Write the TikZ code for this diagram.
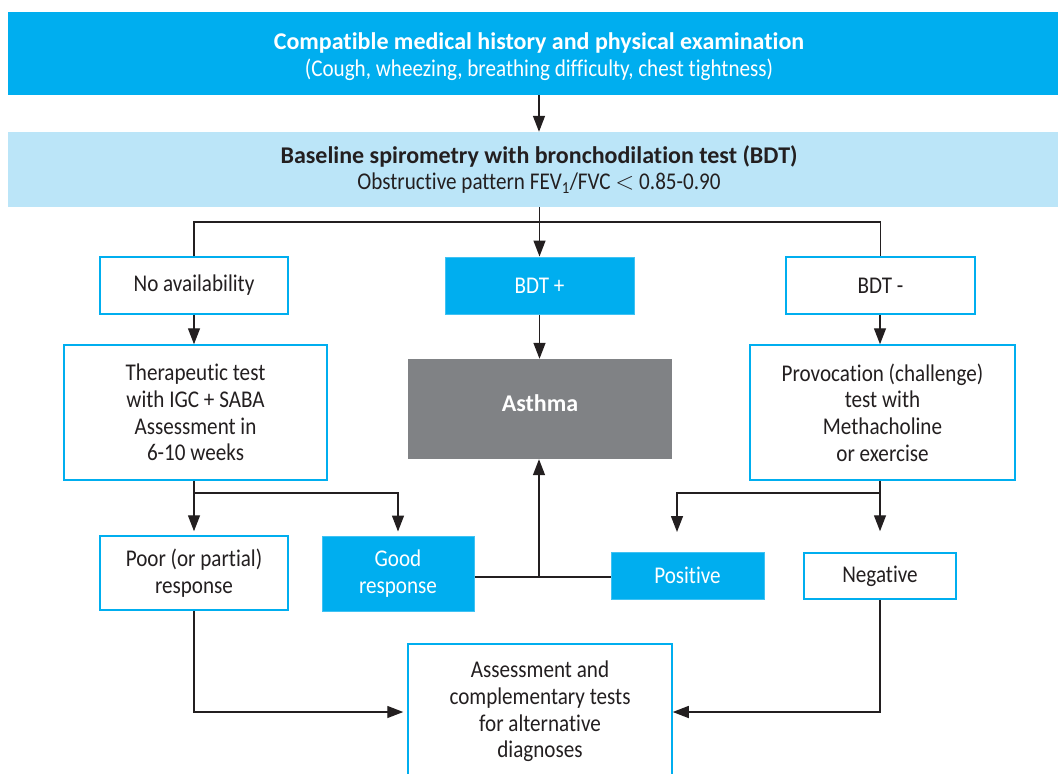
\documentclass[tikz,border=0pt]{standalone}
\usepackage{fontspec}
\setmainfont{Carlito}[Ligatures=NoCommon, UprightFeatures={FakeStretch=0.88}]
\usetikzlibrary{arrows.meta}
\definecolor{cyanA}{HTML}{00AEEF}
\definecolor{paleA}{HTML}{BBE5F8}
\definecolor{greyA}{HTML}{808285}
\definecolor{inkA}{HTML}{231F20}
\begin{document}
\begin{tikzpicture}[x=1pt,y=-1pt,
  every node/.style={font=\fontsize{24}{26.7}\selectfont, text=inkA, align=center, inner sep=0pt},
  outline/.style={draw=cyanA, line width=1.5pt, fill=white},
  filledbox/.style={fill=cyanA, draw=cyanA!75, line width=1pt, text=white},
  ln/.style={draw=inkA, line width=1.4pt},
  arr/.style={ln, -{Triangle[length=16pt,width=12pt]}},
]
\useasboundingbox (0,0) rectangle (1058,774);
\clip (0,0) rectangle (1058,774);

% header bars
\node[fill=cyanA, minimum width=1062pt, minimum height=83pt,
  label={[text=white, yshift=-3pt]center:{\textbf{Compatible medical history and physical examination}\\(Cough, wheezing, breathing difficulty, chest tightness)}}]
  (top) at (539,53.5) {};
\node[fill=paleA, minimum width=1062pt, minimum height=75pt] (base) at (539,169.5)
  {\textbf{Baseline spirometry with bronchodilation test (BDT)}\\Obstructive pattern FEV\textsubscript{1}/FVC $<$ 0.85-0.90};

% first branch row
\node[outline, minimum width=188pt, minimum height=57pt] (noav) at (194,285.5) {No availability};
\node[filledbox, minimum width=189pt, minimum height=57pt] (bdtp) at (539.5,285.5) {BDT +};
\node[outline, minimum width=189pt, minimum height=57pt] (bdtm) at (880.5,285.5) {BDT -};

% tests and diagnosis
\node[outline, minimum width=263pt, minimum height=135pt] (thera) at (195.5,412.5)
  {Therapeutic test\\with IGC + SABA\\Assessment in\\6-10 weeks};
\node[fill=greyA, minimum width=264pt, minimum height=100pt,
  label={[text=white, font=\fontsize{24}{26.7}\selectfont\bfseries, yshift=6pt]center:Asthma}]
  (asthma) at (540,409) {};
\node[outline, minimum width=265pt, minimum height=135pt] (provo) at (882.5,412.5)
  {Provocation (challenge)\\test with\\Methacholine\\or exercise};

% outcomes
\node[outline, minimum width=188pt, minimum height=74pt] (poor) at (194,573) {Poor (or partial)\\response};
\node[filledbox, minimum width=152pt, minimum height=75pt] (good) at (398,573.5) {Good\\response};
\node[filledbox, minimum width=153pt, minimum height=47pt] (pos) at (687.5,575.5) {Positive};
\node[outline, minimum width=152pt, minimum height=46pt] (neg) at (880,576) {Negative};

% alternative diagnoses
\node[outline, minimum width=264pt, minimum height=160pt, anchor=north] (alt) at (540,643) {};
\node (alttext) at (540,711.5) {Assessment and\\complementary tests\\for alternative\\diagnoses};

% junction points
\coordinate (split) at (539,222);
\coordinate (tj) at (194,493);
\coordinate (pj) at (880,493);
\coordinate (pa) at (677,532);
\coordinate (gj) at (539,577);
\coordinate (bj) at (0,712);

% connectors
\draw[arr] (top.south -| base) -- (base.north);
\draw[arr] (base.south -| bdtp) -- (bdtp.north);
\draw[ln] (noav.north) |- (split) -| (bdtm.north);
\draw[arr] (noav.south) -- (thera.north -| noav);
\draw[arr] (bdtp.south) -- (asthma.north -| bdtp);
\draw[arr] (bdtm.south -| pj) -- (provo.north -| pj);

\draw[ln] (thera.south -| tj) -- (tj);
\draw[arr, shorten >=4pt] (tj) -- (poor.north);
\draw[arr, shorten >=4pt] (tj) -| (good.north);
\draw[ln] (provo.south -| pj) -- (pj);
\draw[arr, shorten >=21pt] (pj) -- (neg.north);
\draw[arr] (pj) -| (pa);

\draw[ln] (gj -| good.east) -- (gj) -- (gj -| pos.west);
\draw[arr] (gj) -- (asthma.south -| gj);

\draw[arr, shorten >=4pt] (poor.south) |- (alt.west |- bj);
\draw[arr] (neg.south) |- (alt.east |- bj);
\end{tikzpicture}
\end{document}
